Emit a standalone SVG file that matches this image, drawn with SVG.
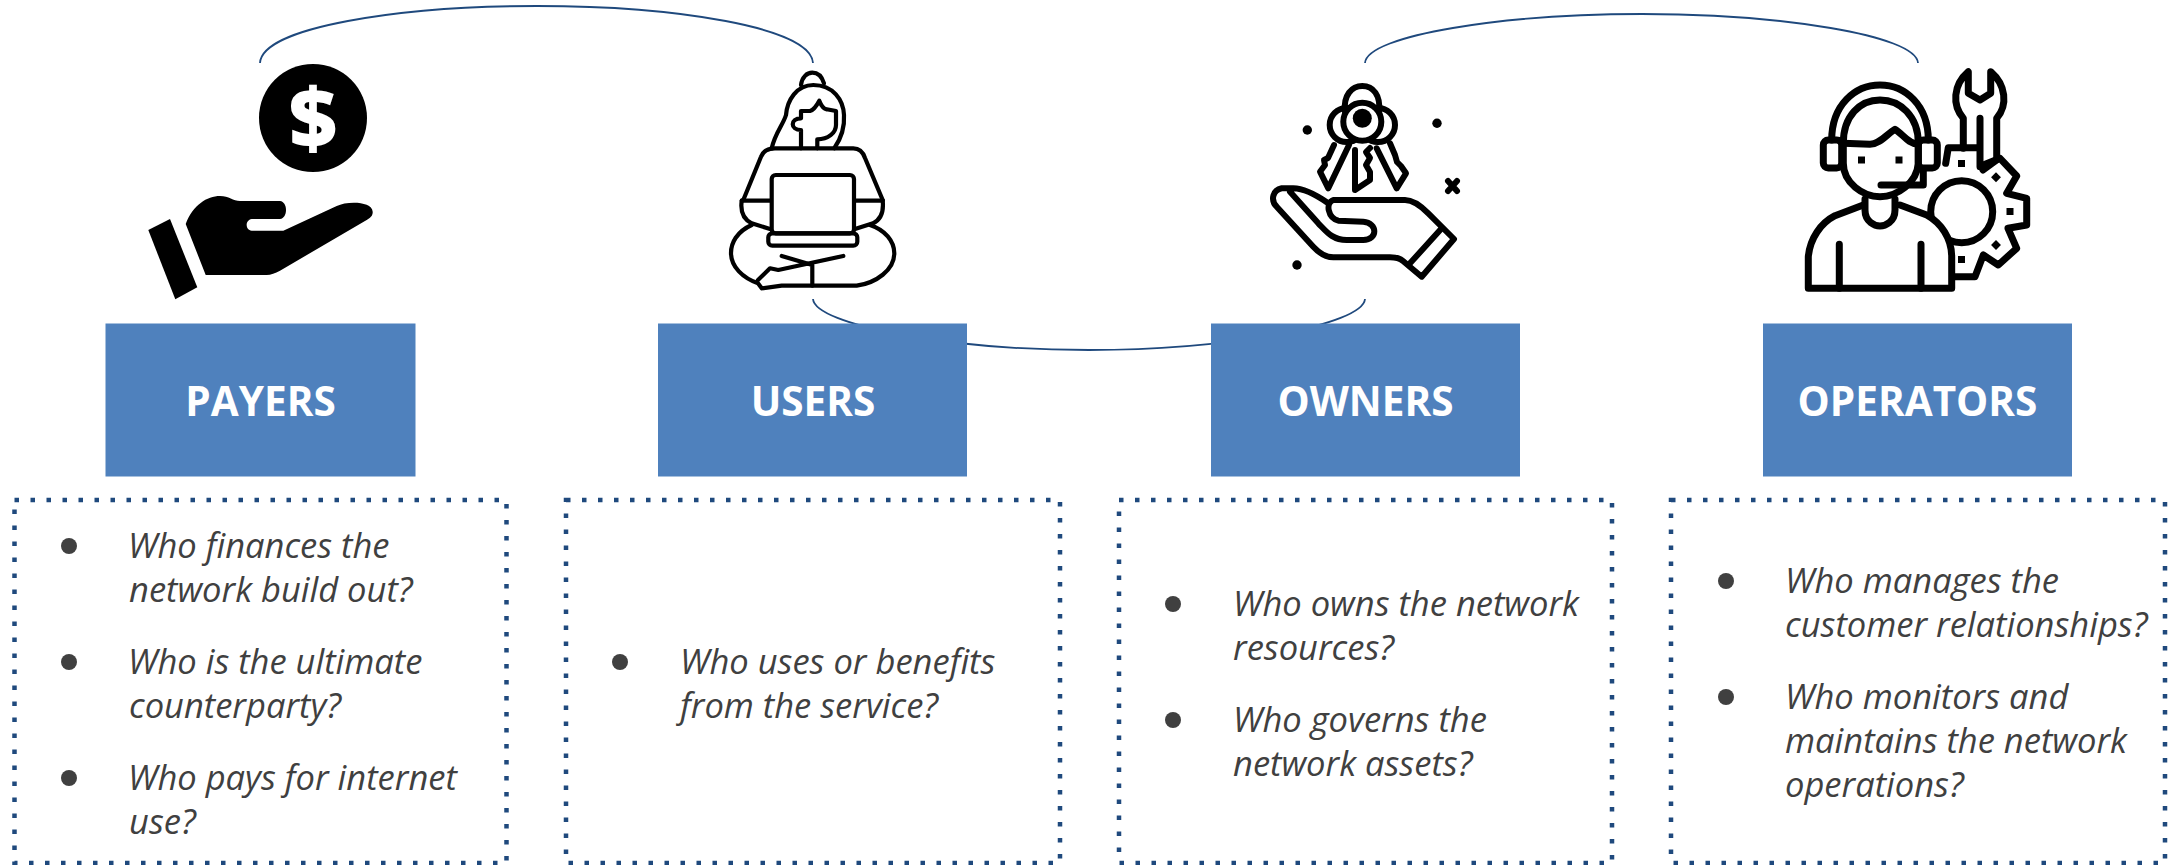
<svg xmlns="http://www.w3.org/2000/svg" width="2177" height="865" viewBox="0 0 2177 865">
<style>
.head{fill:#4f81bd}
.ht{fill:#fff;font-family:"Open Sans","Liberation Sans",sans-serif;font-weight:700;font-size:40.500px;text-anchor:middle}
.dot{fill:none;stroke:#1f497d;stroke-width:4.500;stroke-dasharray:4.500 11.500}
.q{fill:#404040;font-family:"Open Sans","Liberation Sans",sans-serif;font-style:italic;font-size:34.500px}
.b{fill:#404040}
.arc{fill:none;stroke:#1f497d;stroke-width:1.800}
.i{fill:none;stroke:#000;stroke-linecap:round;stroke-linejoin:round}
.w{fill:#fff}
.k{fill:#000}
</style>
<g id="connectors">
<path class="arc" d="M260,63 C262,27 400,6 537,6 C674,6 811,27 813,63"/>
<path class="arc" d="M1365,63 C1367,35 1505,14 1642,14 C1779,14 1916,35 1918,63"/>
<path class="arc" d="M813,299 C815,325 950,350 1089,350 C1228,350 1363,325 1365,299"/>
</g>
<g id="payers">
<rect class="head" x="105.500" y="323.500" width="310" height="153"/>
<text class="ht" x="260.500" y="416">PAYERS</text>
<circle class="k" cx="313" cy="118" r="54"/>
<text x="313" y="148" fill="#fff" font-family="Open Sans,sans-serif" font-weight="800" font-size="84" text-anchor="middle">$</text>
<path class="k" d="M148.300,230 L170,219 L197.300,287.300 L175.300,299.300Z"/>
<path class="k" d="M185.700,224 C193,205 207,196 220,196 C229,196 233,201 240,201 L280,201 C288,202 288,218 280,219 L251.700,219 C245,220 245,230 251.700,230.700 L283.300,230.700 L336.700,206 C347,201 372,201 372.700,211.700 C373,216 370,218 366.700,220 L280,270.700 C275,273 271,275 266.700,275 L205.700,275Z"/>
<rect class="dot" x="14.500" y="500" width="492" height="363"/>
<circle class="b" cx="69" cy="546" r="8"/><circle class="b" cx="69" cy="662" r="8"/><circle class="b" cx="69" cy="778" r="8"/>
<text class="q" x="128" y="558">Who finances the</text>
<text class="q" x="129" y="602">network build out?</text>
<text class="q" x="128" y="674">Who is the ultimate</text>
<text class="q" x="129" y="718">counterparty?</text>
<text class="q" x="128" y="790">Who pays for internet</text>
<text class="q" x="129" y="834">use?</text>
</g>
<g id="users">
<rect class="head" x="658" y="323.500" width="309" height="153"/>
<text class="ht" x="813" y="416">USERS</text>
<g class="i" stroke-width="4.200">
<path d="M801,85 C802,77 807,72.700 812.300,72.700 C818,72.700 822,77 824,83.300"/>
<path d="M771.700,148.300 C775,133 783,125 786,115 C787.300,100 796.700,85 813.300,85 C833.300,85 843.300,100 844,115 C845,130 840,140 834.300,148.300"/>
<path d="M801,148.300 V130 C790,130 790,118.300 801,118.300 V111 H810 C814,110 817,105 819.300,100.700 C821,105 824,109 826.700,109.300 L836,111 V125 C836,133 828,139.300 817.300,139.300 V148.300"/>
<path d="M743.300,200 L761,156.700 C763,151 768,148.300 775,148.300 H853.300 C860,148.300 863,152 865,158 L882.700,200"/>
<path d="M741.700,200.700 H771 M855,200.700 H882.700"/>
<path d="M741.700,200.700 C740,213 745,220 751.700,223.300 L770,229 M882.700,200.700 C884,213 880,220 873,223.300 L855,229"/>
<rect x="771.700" y="175" width="82.300" height="58.300" rx="4"/>
<rect x="768.300" y="233.300" width="89" height="12.400" rx="4"/>
<path d="M751.700,225 C736.700,231.700 731,243 731,253 C731,267 743,278 758,283.300 L761.700,288.300 L781.700,285.700 H856.700 C876,283 894.300,270 894.300,253.300 C894.300,241 885,230 870,225"/>
<path d="M758,280 L770,268.300 L778.300,270 L843.300,256 M781.700,256 L812.300,265 V285.700"/>
</g>
<rect class="dot" x="566" y="500" width="494" height="363"/>
<circle class="b" cx="620" cy="662" r="8"/>
<text class="q" x="680" y="674">Who uses or benefits</text>
<text class="q" x="680" y="718">from the service?</text>
</g>
<g id="owners">
<rect class="head" x="1211" y="323.500" width="309" height="153"/>
<text class="ht" x="1365.500" y="416">OWNERS</text>
<g class="i" stroke-width="6">
<path d="M1345,112 C1343,95 1352,86 1362.300,86 C1373,86 1381,95 1379,112"/>
<circle cx="1346.700" cy="125" r="17"/>
<circle cx="1378" cy="125" r="17"/>
<circle class="w" cx="1362.300" cy="121.700" r="19"/>
<path class="w" d="M1334,145 L1328,158 L1324,160 L1325,165 L1320,171.700 L1328.300,188.300 L1349,145"/>
<path class="w" d="M1355,150 V190 L1370,180 V172 L1366,165 L1370,158 L1366,152 L1370,148"/>
<path class="w" d="M1376.700,148.300 L1396.700,188.300 L1406,173.300 L1401,166 L1397,162 L1395,155 L1390,143.300"/>
<path d="M1328.300,203.300 C1312,192 1300,188.300 1293.300,188.300 L1281.700,188.300 C1273,190 1270,200 1276.700,206.700 L1313.300,246.700 C1321,255 1327,257.300 1333.300,257.300 H1390 C1396,257.300 1400,258.300 1403,261 L1421.700,276.700 L1454,239 L1428.300,213.300 C1420,205 1413,200 1405,200 H1333.300 C1325,203 1328,218 1338.300,220.700 L1363.300,221.700 C1378,223 1378,240 1363.300,240 H1346.700 C1332,240 1326,231 1318.300,223.300 L1290,191.700"/>
<path d="M1441.700,228.300 L1410,263.300"/>
</g>
<circle class="k" cx="1362.300" cy="118.300" r="9.500"/>
<circle class="k" cx="1307.300" cy="130" r="4.700"/><circle class="k" cx="1437" cy="123.300" r="4.700"/><circle class="k" cx="1297" cy="265" r="4.700"/>
<path class="i" stroke-width="6" d="M1448,181 L1457,191 M1457,181 L1448,191"/>
<rect class="dot" x="1119" y="500" width="493" height="363"/>
<circle class="b" cx="1173" cy="604" r="8"/><circle class="b" cx="1173" cy="720" r="8"/>
<text class="q" x="1233" y="616">Who owns the network</text>
<text class="q" x="1233" y="660">resources?</text>
<text class="q" x="1233" y="732">Who governs the</text>
<text class="q" x="1233" y="776">network assets?</text>
</g>
<g id="operators">
<rect class="head" x="1763" y="323.500" width="309" height="153"/>
<text class="ht" x="1917.500" y="416">OPERATORS</text>
<g class="i" stroke-width="7" stroke-linecap="butt" stroke-linejoin="miter">
<circle cx="1961.700" cy="211.700" r="31"/>
<path d="M1945.700,163.300 L1948.300,147.700 H1976.700 M1983.300,165 L2000,158.300 L2016.700,176 L2006.700,193.300 L2026.700,198.300 V225 L2008,228.300 L2016.700,248.300 L1998.300,265 L1983.300,255 L1975,276.700 H1952.700"/>
<path d="M1963.300,148.300 V118.300 C1952,105 1953,85 1968.300,71.700 V93.300 L1980,100 L1990.700,93.300 V71.700 C2006,85 2008,105 1996.700,118.300 V160 L1983,170 M1980,118.300 V166.700"/>
<path class="w" d="M1900,205 L1926.700,215 C1941,223 1951.700,238 1951.700,256.700 V288.300 H1808.300 V256.700 C1810,238 1821,223 1835,215.700 L1863.300,205"/>
<path class="w" d="M1865,199 V210 C1865,222 1875,226 1880,226 C1885,226 1895,222 1895,210 V199"/>
<path d="M1839.300,244.300 V288.300 M1921,244.300 V288.300"/>
<path class="w" d="M1843.300,143.300 V163 C1843.300,183 1863,196.700 1880,196.700 C1897,196.700 1917,183 1918.300,163.300 V143.300"/>
<path d="M1843.300,143.300 L1870,144.300 C1880,144.300 1888,133 1895,129.300 C1902,133 1908,144 1918,144"/>
<path d="M1843.300,143.300 C1843.300,116 1860,100 1880,100 C1900,100 1918.300,116 1918.300,143.300"/>
<path d="M1831.700,140 C1831.700,105 1855,85 1880,85 C1905,85 1928.300,105 1928.300,140"/>
<rect x="1823.300" y="140" width="18.400" height="28" rx="5"/>
<rect x="1918.300" y="140" width="19" height="28" rx="5"/>
<path d="M1881,185 H1923.300 V170"/>
</g>
<rect class="k" x="1858" y="156.500" width="7" height="7"/><rect class="k" x="1895.500" y="156.500" width="7" height="7"/>
<rect class="k" x="1958" y="160" width="7" height="7"/><rect class="k" x="1958" y="256" width="7" height="7"/><rect class="k" x="2006.500" y="208" width="7" height="7"/>
<rect class="k" x="1992.500" y="173.800" width="7" height="7" transform="rotate(45 1996 177.300)"/><rect class="k" x="1992.500" y="241.500" width="7" height="7" transform="rotate(45 1996 245)"/>
<rect class="dot" x="1671" y="500" width="494" height="363"/>
<circle class="b" cx="1726" cy="581" r="8"/><circle class="b" cx="1726" cy="697" r="8"/>
<text class="q" x="1785" y="593">Who manages the</text>
<text class="q" x="1785" y="637">customer relationships?</text>
<text class="q" x="1785" y="709">Who monitors and</text>
<text class="q" x="1785" y="753">maintains the network</text>
<text class="q" x="1785" y="797">operations?</text>
</g>
</svg>
